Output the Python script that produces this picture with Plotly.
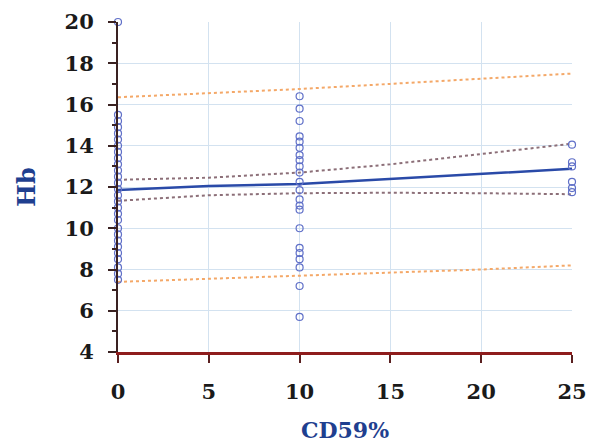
import plotly.graph_objects as go

# ---- data ----
x0_hb = [20.0, 15.5, 15.2, 14.9, 14.6, 14.3, 14.0, 13.7, 13.4, 13.1, 12.8, 12.5, 12.2,
         11.9, 11.6, 11.3, 11.0, 10.7, 10.4, 10.0, 9.7, 9.4, 9.1, 8.8, 8.5, 8.1, 7.8, 7.5]
x10_hb = [16.4, 15.8, 15.2, 14.45, 14.2, 13.9, 13.55, 13.3, 13.0, 12.7, 12.25, 11.85,
          11.4, 11.1, 10.9, 10.0, 9.05, 8.8, 8.5, 8.1, 7.2, 5.7]
x25_hb = [14.05, 13.2, 13.0, 12.25, 11.95, 11.75]

line_x = [0, 5, 10, 15, 20, 25]
fit = [11.85, 12.05, 12.15, 12.4, 12.65, 12.88]
ci_upper = [12.35, 12.45, 12.7, 13.1, 13.6, 14.1]
ci_lower = [11.33, 11.6, 11.7, 11.72, 11.7, 11.65]
pi_upper = [16.35, 16.55, 16.75, 17.0, 17.25, 17.5]
pi_lower = [7.4, 7.55, 7.7, 7.85, 8.0, 8.2]

x_ticks = [0, 5, 10, 15, 20, 25]
y_ticks = [4, 6, 8, 10, 12, 14, 16, 18, 20]

pts_x = [0] * len(x0_hb) + [10] * len(x10_hb) + [25] * len(x25_hb)
pts_y = x0_hb + x10_hb + x25_hb

serif = "DejaVu Serif"
fig = go.Figure()

fig.add_trace(go.Scatter(x=line_x, y=pi_upper, mode="lines",
                         line=dict(color="#f4a868", width=2, dash="dot")))
fig.add_trace(go.Scatter(x=line_x, y=pi_lower, mode="lines",
                         line=dict(color="#f4a868", width=2, dash="dot")))
fig.add_trace(go.Scatter(x=line_x, y=ci_upper, mode="lines",
                         line=dict(color="#8c6f78", width=2, dash="dot")))
fig.add_trace(go.Scatter(x=line_x, y=ci_lower, mode="lines",
                         line=dict(color="#8c6f78", width=2, dash="dot")))
fig.add_trace(go.Scatter(x=line_x, y=fit, mode="lines",
                         line=dict(color="#2a4aa8", width=2.5)))
fig.add_trace(go.Scatter(x=pts_x, y=pts_y, mode="markers", cliponaxis=False,
                         marker=dict(symbol="circle-open", size=7,
                                     color="#6070c8", line=dict(width=1.2))))

# the page body has an 8px margin, so the figure is sized/offset to compensate
fig.update_layout(
    width=586, height=435,
    margin=dict(l=110, r=22, t=14, b=91),
    paper_bgcolor="white", plot_bgcolor="white",
    showlegend=False,
    xaxis=dict(range=[0, 25], tickvals=x_ticks, showgrid=True, automargin=False,
               gridcolor="#d3e2f0", gridwidth=1.2, zeroline=False,
               showline=True, linecolor="#8e1c1c", linewidth=3,
               ticks="outside", ticklen=8, tickcolor="#5a2020", tickwidth=2,
               ticklabelstandoff=11,
               tickfont=dict(family=serif, size=21, color="#1a1a1a", weight="bold"),
               title=dict(text="CD59%", standoff=28,
                          font=dict(family=serif, size=22, color="#1f3f8f", weight="bold"))),
    yaxis=dict(range=[4, 20], tickvals=y_ticks, showgrid=True, automargin=False,
               gridcolor="#d3e2f0", gridwidth=1.2, zeroline=False,
               showline=True, linecolor="#3a2222", linewidth=2,
               ticks="outside", ticklen=8, tickcolor="#3a2222", tickwidth=2,
               minor=dict(dtick=1, ticks="outside", ticklen=4, tickcolor="#3a2222",
                          showgrid=False),
               ticklabelstandoff=10,
               tickfont=dict(family=serif, size=21, color="#1a1a1a", weight="bold"),
               title=dict(text="Hb", standoff=22,
                          font=dict(family=serif, size=24, color="#1f3f8f", weight="bold"))),
)

fig.write_html("out.html")
